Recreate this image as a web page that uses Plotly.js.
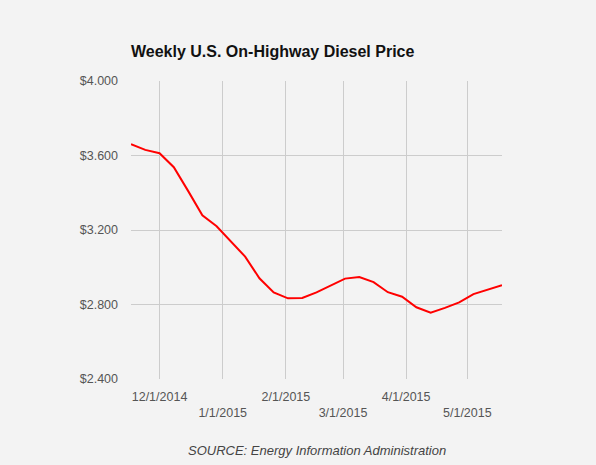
<!DOCTYPE html>
<html>
<head>
<meta charset="utf-8">
<script src="https://cdn.plot.ly/plotly-3.0.1.min.js"></script>
<style>
  html, body { margin: 0; padding: 0; background: #f3f3f3; }
  #chart { width: 596px; height: 465px; }
</style>
</head>
<body>
<div id="chart"></div>
<script>
// weekly dates (Mondays) and retail diesel price, $/gal
const weeks = [
    '2014-11-17', '2014-11-24', '2014-12-01', '2014-12-08', '2014-12-15', '2014-12-22', '2014-12-29',
    '2015-01-05', '2015-01-12', '2015-01-19', '2015-01-26', '2015-02-02', '2015-02-09', '2015-02-16',
    '2015-02-23', '2015-03-02', '2015-03-09', '2015-03-16', '2015-03-23', '2015-03-30', '2015-04-06',
    '2015-04-13', '2015-04-20', '2015-04-27', '2015-05-04', '2015-05-11', '2015-05-18'
];
const prices = [
    3.661, 3.630, 3.612, 3.537, 3.410, 3.279, 3.220,
    3.141, 3.057, 2.941, 2.865, 2.833, 2.835, 2.865,
    2.900, 2.939, 2.948, 2.920, 2.866, 2.842, 2.785,
    2.756, 2.782, 2.811, 2.856, 2.880, 2.904
];
const monthTicks = ['2014-12-01', '2015-01-01', '2015-02-01', '2015-03-01', '2015-04-01', '2015-05-01'];
const monthLabels = ['12/1/2014', '1/1/2015', '2/1/2015', '3/1/2015', '4/1/2015', '5/1/2015'];
const priceTicks = [2.4, 2.8, 3.2, 3.6, 4.0];

const titleText = 'Weekly U.S. On-Highway Diesel Price';
const sourceText = 'SOURCE: Energy Information Administration';

// every second label drops to a second row
const staggered = monthLabels.map((t, i) => (i % 2 === 1 ? '<br>' + t : t));

const data = [{
    type: 'scatter',
    mode: 'lines',
    x: weeks,
    y: prices,
    line: { color: '#ff0000', width: 2 },
    hoverinfo: 'skip'
}];

const layout = {
    width: 596,
    height: 465,
    margin: { l: 131, r: 94, t: 81, b: 86 },
    paper_bgcolor: '#f3f3f3',
    plot_bgcolor: '#f3f3f3',
    font: { family: 'Arial, "Liberation Sans", sans-serif', size: 12.5, color: '#555' },
    showlegend: false,
    title: {
        text: '<b>' + titleText + '</b>',
        font: { size: 16, color: '#111' },
        xref: 'paper', x: 0, xanchor: 'left',
        yref: 'container', y: 1 - 51.5 / 465, yanchor: 'middle'
    },
    xaxis: {
        type: 'date',
        range: [weeks[0], weeks[weeks.length - 1]],
        tickmode: 'array',
        tickvals: monthTicks,
        ticktext: staggered,
        showgrid: true,
        gridcolor: '#cccccc',
        gridwidth: 1,
        zeroline: false,
        showline: false,
        ticks: '',
        ticklabelstandoff: 8,
        tickfont: { size: 12.5, color: '#555' }
    },
    yaxis: {
        range: [2.4, 4.0],
        tickmode: 'array',
        tickvals: priceTicks,
        tickformat: '$.3f',
        showgrid: true,
        gridcolor: '#cccccc',
        gridwidth: 1,
        zeroline: false,
        showline: false,
        ticks: '',
        ticklabelstandoff: 12,
        tickfont: { size: 12.5, color: '#555' }
    },
    annotations: [{
        text: '<i>' + sourceText + '</i>',
        xref: 'paper', x: 0.5, xanchor: 'center',
        yref: 'paper', y: -(450 - 379) / 298, yanchor: 'middle',
        showarrow: false,
        font: { size: 13, color: '#444' }
    }]
};

Plotly.newPlot('chart', data, layout, { displayModeBar: false, staticPlot: true });
</script>
</body>
</html>
